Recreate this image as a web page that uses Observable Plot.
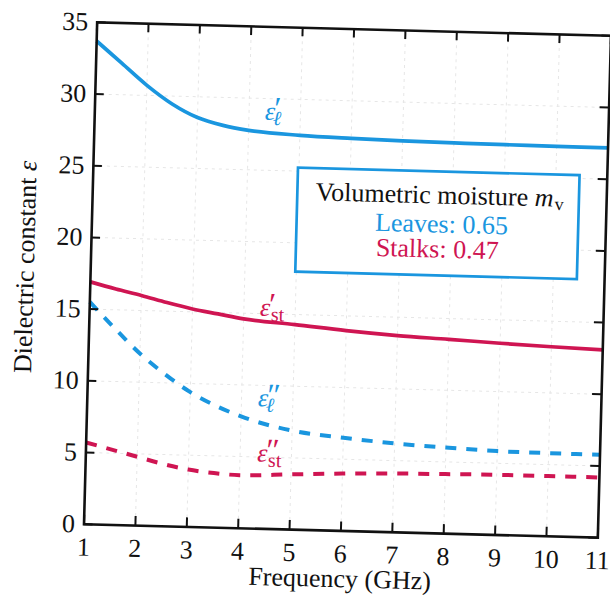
<!DOCTYPE html>
<html>
<head>
<meta charset="utf-8">
<script src="https://cdn.jsdelivr.net/npm/d3@7"></script>
<script src="https://cdn.jsdelivr.net/npm/@observablehq/plot@0.6"></script>
<style>
html, body { margin: 0; padding: 0; background: #fff; overflow: hidden; width: 610px; height: 604px; }
#chart { width: 610px; height: 604px; transform: rotate(1.5deg); transform-origin: 347px 279.5px; }
#chart svg { display: block; overflow: visible; }
#chart svg text { font-family: 'Liberation Serif', 'Times New Roman', serif !important; }
</style>
</head>
<body>
<div id="chart"></div>
<script>
// ---- data ----
const frequency = [1, 1.5, 2, 2.5, 3, 3.5, 4, 5, 6, 7, 8, 9, 10, 11]; // GHz
const leafReal  = [33.7, 32.2, 30.7, 29.45, 28.55, 28.05, 27.75, 27.5, 27.38, 27.3, 27.25, 27.22, 27.2, 27.19];
const stalkReal = [16.9, 16.45, 16.05, 15.6, 15.2, 14.9, 14.6, 14.3, 13.97, 13.72, 13.55, 13.37, 13.22, 13.09];
const leafImag  = [15.5, 13.7, 12.0, 10.6, 9.4, 8.5, 7.8, 6.9, 6.5, 6.2, 6.0, 5.85, 5.8, 5.78];
const stalkImag = [5.7, 5.25, 4.8, 4.35, 4.0, 3.8, 3.7, 3.85, 4.0, 4.1, 4.15, 4.2, 4.2, 4.2];

const xTicks = [1, 2, 3, 4, 5, 6, 7, 8, 9, 10, 11];
const yTicks = [0, 5, 10, 15, 20, 25, 30, 35];

const curvePrime  = ["′", "′", "″", "″"];
const curveSub    = ["ℓ", "st", "ℓ", "st"];
const curveLabelF = [4.41, 4.41, 4.42, 4.43];
const curveLabelV = [29.1, 15.43, 9.11, 5.27];

const legendTitle = "Volumetric moisture ";
const legendGroups = ["Leaves", "Stalks"];
const legendMoisture = [0.65, 0.47];

const xTitle = "Frequency (GHz)";
const yTitle = "Dielectric constant ";

// ---- styles ----
const blue = "#1a96df";
const red = "#cf1552";
const ink = "#111111";
const font = "'Liberation Serif', 'Times New Roman', serif";

const series = [
  {values: leafReal,  color: blue, dash: null},
  {values: stalkReal, color: red,  dash: null},
  {values: leafImag,  color: blue, dash: "11,10"},
  {values: stalkImag, color: red,  dash: "11,10"}
];
const labelColors = [blue, red, blue, red];

const W = 610, H = 604;
const mL = 90, mR = 6, mT = 28.5, mB = 73.5;
const fw = W - mL - mR, fh = H - mT - mB;

const marks = [];

// faint grid
marks.push(Plot.ruleX(xTicks.slice(1, -1), {x: d => d, stroke: "#e6e6e6", strokeWidth: 1, strokeDasharray: "3,4"}));
marks.push(Plot.ruleY(yTicks.slice(1, -1), {y: d => d, stroke: "#e6e6e6", strokeWidth: 1, strokeDasharray: "3,4"}));

// legend box
marks.push(Plot.rect([0], {x1: 4.99, x2: 10.47, y1: 17.95, y2: 25.2, fill: "white", stroke: blue, strokeWidth: 2.7}));

// curves
series.forEach(s => {
  const rows = frequency.map((f, i) => ({f, v: s.values[i]}));
  marks.push(Plot.line(rows, {
    x: "f", y: "v", stroke: s.color, strokeWidth: s.dash ? 4 : 3.7,
    strokeDasharray: s.dash || undefined, strokeLinecap: "butt",
    curve: "monotone-x"
  }));
});

// frame and inward ticks
marks.push(Plot.frame({stroke: ink, strokeWidth: 2.6}));
marks.push(Plot.ruleX(xTicks, {x: d => d, insetTop: fh - 9, stroke: ink, strokeWidth: 2}));
marks.push(Plot.ruleX(xTicks, {x: d => d, insetBottom: fh - 9, stroke: ink, strokeWidth: 2}));
marks.push(Plot.ruleY(yTicks, {y: d => d, insetRight: fw - 9, stroke: ink, strokeWidth: 2}));
marks.push(Plot.ruleY(yTicks, {y: d => d, insetLeft: fw - 9, stroke: ink, strokeWidth: 2}));

// curve labels  ε′ℓ etc.
curvePrime.forEach((p, i) => {
  const c = labelColors[i];
  const pos = {x: () => curveLabelF[i], y: () => curveLabelV[i]};
  marks.push(Plot.text([0], {...pos, text: () => "ε", fill: c, fontSize: 26, fontStyle: "italic", textAnchor: "middle"}));
  marks.push(Plot.text([0], {...pos, text: () => p, fill: c, fontSize: 32, fontStyle: "italic", textAnchor: "start", dx: 2, dy: -3}));
  marks.push(Plot.text([0], {...pos, text: () => curveSub[i], fill: c, fontSize: 20,
    fontStyle: curveSub[i] === "ℓ" ? "italic" : "normal", textAnchor: "start", dx: curveSub[i] === "ℓ" ? 3 : 6, dy: 7}));
});

// legend text
marks.push(Plot.text([0], {x: () => 9.6, y: () => 23.58, text: () => legendTitle, fill: ink, fontSize: 26, textAnchor: "end"}));
marks.push(Plot.text([0], {x: () => 9.6, y: () => 23.58, text: () => "m", fill: ink, fontSize: 26, fontStyle: "italic", textAnchor: "start"}));
marks.push(Plot.text([0], {x: () => 9.6, y: () => 23.58, text: () => "v", fill: ink, fontSize: 18, textAnchor: "start", dx: 20, dy: 6}));
legendGroups.forEach((g, i) => {
  marks.push(Plot.text([0], {
    x: () => (i === 0 ? 7.8 : 7.73), y: () => (i === 0 ? 21.56 : 19.81),
    text: () => `${g}: ${legendMoisture[i].toFixed(2)}`,
    fill: i === 0 ? blue : red, fontSize: 26, textAnchor: "middle"
  }));
});

// axis titles
marks.push(Plot.text([xTitle], {text: d => d, frameAnchor: "bottom", lineAnchor: "middle", dy: 48, fill: ink, fontSize: 26}));
marks.push(Plot.text([yTitle], {text: d => d, frameAnchor: "left", lineAnchor: "middle", dx: -65.2, dy: 101.5, rotate: -90, textAnchor: "start", fill: ink, fontSize: 26}));
marks.push(Plot.text(["ε"], {text: d => d, frameAnchor: "left", lineAnchor: "middle", dx: -65.2, dy: -100.5, rotate: -90, textAnchor: "start", fill: ink, fontSize: 26, fontStyle: "italic"}));

const chart = Plot.plot({
  width: W, height: H,
  marginLeft: mL, marginRight: mR, marginTop: mT, marginBottom: mB,
  style: {fontFamily: font, fontSize: "26px", color: ink, background: "transparent", overflow: "visible"},
  x: {domain: [1, 11], ticks: xTicks, tickSize: 0, tickPadding: 13, label: null, tickFormat: d => String(d)},
  y: {domain: [0, 35], ticks: yTicks, tickSize: 0, tickPadding: 9, label: null, tickFormat: d => String(d)},
  marks
});
document.getElementById("chart").appendChild(chart);
</script>
</body>
</html>
